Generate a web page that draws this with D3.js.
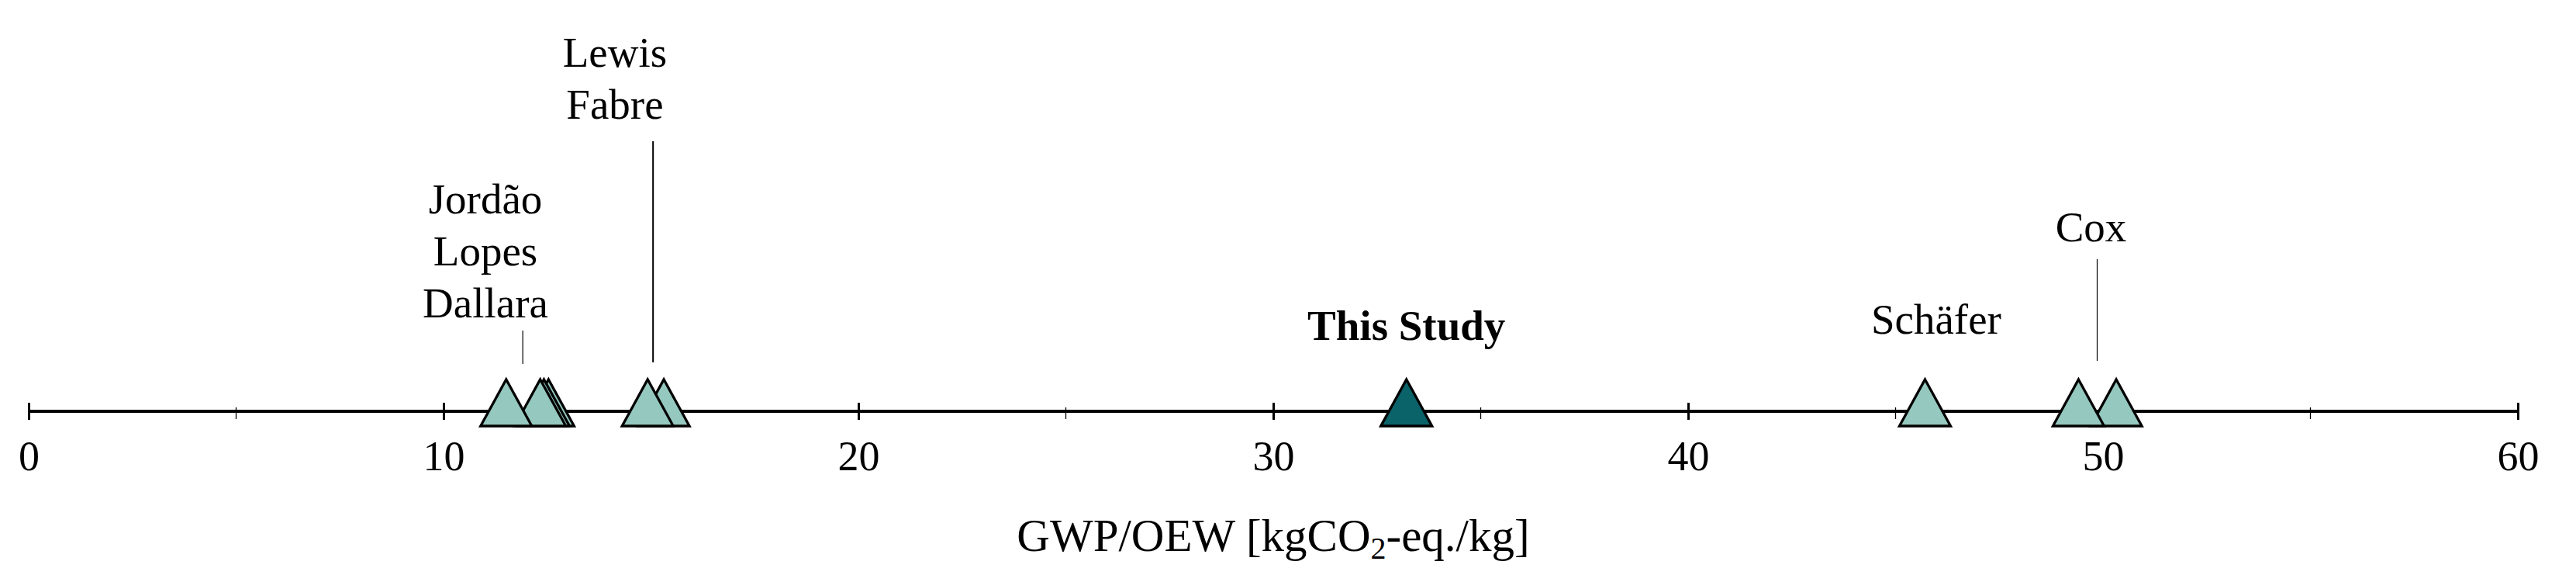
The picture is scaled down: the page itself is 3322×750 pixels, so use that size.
<!DOCTYPE html>
<html>
<head>
<meta charset="utf-8">
<script src="https://cdn.jsdelivr.net/npm/d3@7"></script>
<style>
  body { margin: 0; background: #fff; }
  svg { display: block; }
  text { font-family: "Liberation Serif", "Times New Roman", serif; fill: #000; }
</style>
</head>
<body>
<svg id="chart"></svg>
<script>
// chart size
var width = 3322;
var height = 750;
var axisY = 530;

// the studies (GWP/OEW values)
var studyValues = [11.51, 12.33, 12.42, 12.53, 14.92, 15.31, 45.71, 49.41, 50.32];
var thisStudyValue = 33.21;

// tick values
var majorTicks = [0, 10, 20, 30, 40, 50, 60];
var minorTicks = [5, 15, 25, 35, 45, 55];

// annotations: text lines, where they sit on the axis, and leader lines
var labelLines = [["Jordão", "Lopes", "Dallara"], ["Lewis", "Fabre"], ["Schäfer"], ["Cox"]];
var labelValues = [11.01, 14.13, 45.98, 49.71];
var leaderValues = [11.91, 15.05, null, 49.86];

var svg = d3.select("#chart")
    .attr("width", width)
    .attr("height", height);

var x = d3.scaleLinear()
    .domain([0, 60])
    .range([37, 3247]);

//axis line + major ticks
var xAxis = d3.axisBottom(x)
    .tickValues(majorTicks)
    .tickSizeInner(11)
    .tickSizeOuter(0)
    .tickPadding(30)
    .tickFormat(d3.format("d"));

var axisG = svg.append("g")
    .attr("transform", "translate(0," + axisY + ")")
    .call(xAxis);

axisG.select(".domain")
    .attr("d", "M" + x(0) + ",0H" + x(60))
    .style("stroke", "#000")
    .style("stroke-width", 4.2);

axisG.selectAll(".tick line")
    .attr("y1", -11)
    .attr("y2", 11)
    .style("stroke", "#000")
    .style("stroke-width", 3);

axisG.selectAll(".tick text")
    .attr("y", 0)
    .attr("dy", 76)
    .style("font-family", "'Liberation Serif', serif")
    .style("font-size", "54px");

//minor ticks
svg.append("g").selectAll("line")
    .data(minorTicks)
    .enter().append("line")
    .attr("x1", function(d) { return x(d); })
    .attr("x2", function(d) { return x(d); })
    .attr("y1", axisY - 5)
    .attr("y2", axisY + 10)
    .style("stroke", "#000")
    .style("stroke-width", 1.3);

//triangle markers
function tri(d) {
  var cx = x(d);
  return "M" + cx + "," + (axisY - 41) +
         "L" + (cx + 33) + "," + (axisY + 19) +
         "L" + (cx - 33) + "," + (axisY + 19) + "Z";
}

// higher values go underneath, so draw them first
var sorted = studyValues.slice().sort(function(a, b) { return b - a; });

svg.append("g").selectAll("path")
    .data(sorted)
    .enter().append("path")
    .attr("d", tri)
    .style("fill", "#95c8bf")
    .style("stroke", "#000")
    .style("stroke-width", 3.3)
    .style("stroke-linejoin", "miter");

svg.append("path")
    .datum(thisStudyValue)
    .attr("d", tri)
    .style("fill", "#0b636a")
    .style("stroke", "#000")
    .style("stroke-width", 3.3);

//labels
var firstBaseline = [275, 86, 430, 311];
var lineGap = 67;
var leaderTop = [426, 182, null, 334];
var leaderBottom = [469, 467, null, 465];
var leaderWidth = [1.2, 2, null, 1.2];

labelLines.forEach(function(lines, i) {
  var t = svg.append("text")
      .attr("x", x(labelValues[i]))
      .attr("y", firstBaseline[i])
      .style("font-size", "55px")
      .style("text-anchor", "middle");
  lines.forEach(function(s, j) {
    t.append("tspan")
      .attr("x", x(labelValues[i]))
      .attr("y", firstBaseline[i] + j * lineGap)
      .text(s);
  });
  if (leaderValues[i] != null) {
    svg.append("line")
      .attr("x1", x(leaderValues[i]))
      .attr("x2", x(leaderValues[i]))
      .attr("y1", leaderTop[i])
      .attr("y2", leaderBottom[i])
      .style("stroke", "#000")
      .style("stroke-width", leaderWidth[i]);
  }
});

svg.append("text")
    .attr("x", x(thisStudyValue))
    .attr("y", 438)
    .style("font-size", "55px")
    .style("font-weight", "bold")
    .style("text-anchor", "middle")
    .text("This Study");

//x axis title
var title = svg.append("text")
    .attr("x", 1642)
    .attr("y", 710)
    .style("font-size", "59px")
    .style("text-anchor", "middle");
title.append("tspan").text("GWP/OEW [kgCO");
title.append("tspan").attr("dy", 10).style("font-size", "40px").text("2");
title.append("tspan").attr("dy", -10).text("-eq./kg]");
</script>
</body>
</html>
